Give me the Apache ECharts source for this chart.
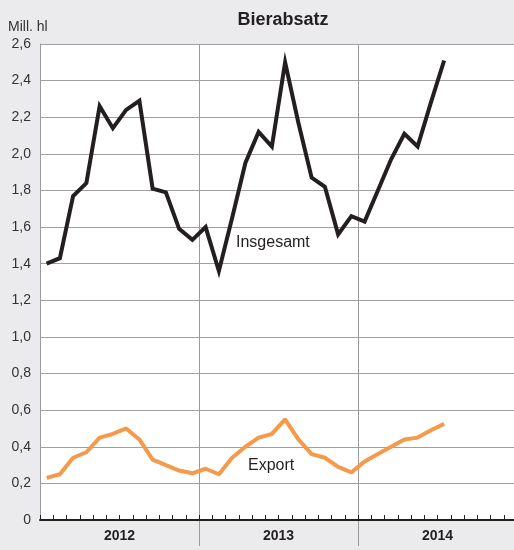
<!DOCTYPE html>
<html>
<head>
<meta charset="utf-8">
<script src="https://cdn.jsdelivr.net/npm/echarts@6/dist/echarts.min.js"></script>
<style>
  html, body { margin: 0; padding: 0; background: #ebebed; overflow: hidden; }
  #chart { width: 517px; height: 550px; }
</style>
</head>
<body>
<div id="chart"></div>
<script>
const years = ['2012', '2013', '2014']
const months = []
years.forEach(y => {
  for (let m = 1; m <= 12; m++) months.push(y + '-' + m)
})

// Mill. hl, Jan 2012 .. Jul 2014
const insgesamt = [
  1.40, 1.43, 1.77, 1.84, 2.26, 2.14, 2.24, 2.29, 1.81, 1.79, 1.59, 1.53,
  1.60, 1.36, 1.65, 1.95, 2.12, 2.04, 2.50, 2.17, 1.87, 1.82, 1.56, 1.66,
  1.63, 1.80, 1.97, 2.11, 2.04, 2.28, 2.51
]
const exportValues = [
  0.23, 0.25, 0.34, 0.37, 0.45, 0.47, 0.50, 0.44, 0.33, 0.30, 0.27, 0.255,
  0.28, 0.25, 0.34, 0.40, 0.45, 0.47, 0.55, 0.44, 0.36, 0.34, 0.29, 0.26,
  0.32, 0.36, 0.40, 0.44, 0.45, 0.49, 0.525
]

const font = '"Liberation Sans", Arial, sans-serif'
const chart = echarts.init(document.getElementById('chart'))

chart.setOption({
  backgroundColor: '#ebebed',
  animation: false,
  textStyle: { fontFamily: font },
  title: {
    text: 'Bierabsatz',
    left: 278,
    top: 6,
    textAlign: 'center',
    textStyle: { fontFamily: font, fontSize: 18, fontWeight: 'bold', color: '#231f20' }
  },
  grid: {
    left: 40,
    right: 0,
    top: 44,
    bottom: 30,
    show: true,
    backgroundColor: '#ffffff',
    borderWidth: 0
  },
  xAxis: [
    {
      type: 'category',
      data: months,
      boundaryGap: true,
      position: 'bottom',
      z: 5,
      axisLine: { show: true, lineStyle: { color: '#231f20', width: 2 } },
      axisTick: { show: true, inside: true, length: 5, interval: 0, lineStyle: { color: '#231f20', width: 1 } },
      axisLabel: { show: true, interval: 0, formatter: () => '' },
      splitLine: { show: false }
    },
    {
      type: 'category',
      data: years,
      position: 'bottom',
      boundaryGap: true,
      axisLine: { show: false },
      axisTick: {
        show: true,
        length: 26,
        interval: i => i > 0,
        lineStyle: { color: '#9a9a9a', width: 1 }
      },
      axisLabel: {
        margin: 9,
        fontFamily: font,
        fontSize: 14,
        fontWeight: 'bold',
        color: '#231f20'
      },
      splitLine: { show: true, lineStyle: { color: '#9a9a9a', width: 1 } }
    }
  ],
  yAxis: {
    type: 'value',
    min: 0,
    max: 2.6,
    interval: 0.2,
    name: 'Mill. hl',
    nameGap: 10,
    nameTextStyle: {
      align: 'left',
      padding: [0, 0, 0, -32],
      fontFamily: font,
      fontSize: 14,
      color: '#333333'
    },
    axisLine: { show: true, lineStyle: { color: '#9a9a9a', width: 1 } },
    axisTick: { show: false },
    axisLabel: {
      margin: 9,
      fontFamily: font,
      fontSize: 14,
      color: '#333333',
      formatter: v => (v === 0 ? '0' : v.toFixed(1).replace('.', ','))
    },
    splitLine: { lineStyle: { color: '#a0a0a0', width: 1 } }
  },
  graphic: [
    {
      type: 'text',
      left: 236,
      top: 235,
      style: { text: 'Insgesamt', font: '16px ' + font, fill: '#231f20' }
    },
    {
      type: 'text',
      left: 248,
      top: 458,
      style: { text: 'Export', font: '16px ' + font, fill: '#231f20' }
    }
  ],
  series: [
    {
      name: 'Insgesamt',
      type: 'line',
      data: insgesamt,
      symbol: 'none',
      lineStyle: { color: '#231f20', width: 4, join: 'miter' }
    },
    {
      name: 'Export',
      type: 'line',
      data: exportValues,
      symbol: 'none',
      lineStyle: { color: '#f5994a', width: 4 }
    }
  ]
})
</script>
</body>
</html>
